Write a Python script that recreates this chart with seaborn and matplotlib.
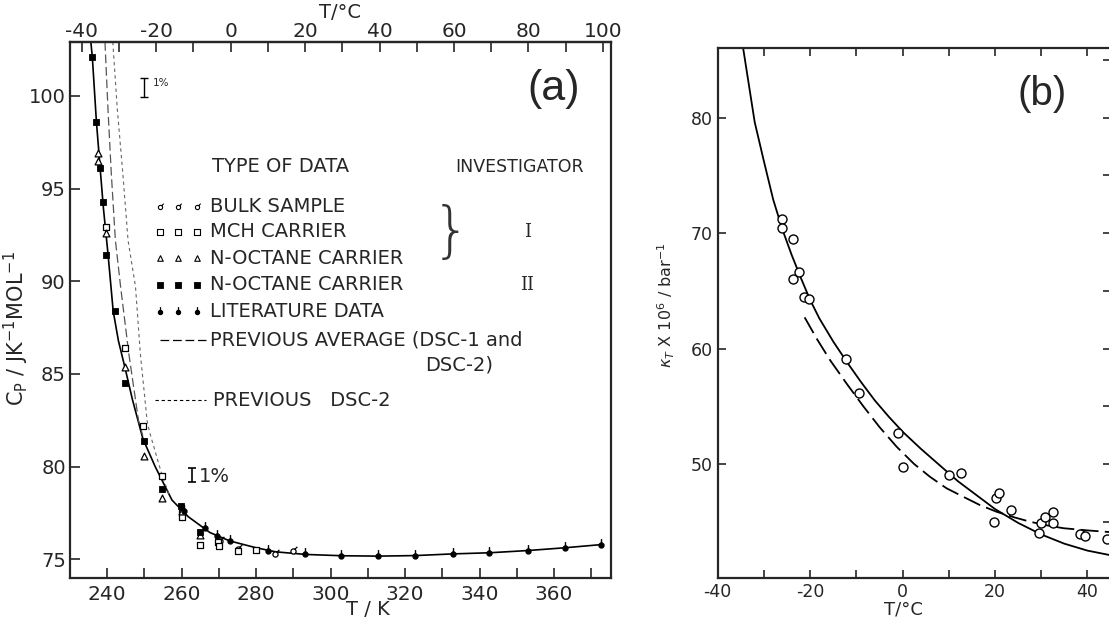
import matplotlib
matplotlib.use("Agg")
import matplotlib.pyplot as plt
import seaborn as sns
from matplotlib.path import Path
from matplotlib.ticker import MultipleLocator, FixedLocator

# ---------------- (a) heat capacity of the liquid ----------------
fit_T = [235.6, 236.0, 237.1, 238.1, 239.0, 240.2, 241.6, 243.0, 244.7, 246.8,
         249.6, 252.9, 257.4, 261.8, 267.6, 272.9, 280.0, 285.3, 293.4, 303.2,
         312.8, 322.8, 332.8, 342.6, 352.9, 362.9, 372.6]
fit_cp = [102.9, 102.1, 98.6, 96.1, 93.9, 91.5, 88.4, 86.8, 85.4, 83.6,
          81.5, 80.0, 78.2, 77.3, 76.45, 76.0, 75.63, 75.41, 75.27, 75.2,
          75.18, 75.21, 75.3, 75.36, 75.48, 75.63, 75.8]

avg_T = [239.4, 240.2, 241.1, 242.2, 243.6, 245.8, 248.4, 250.2]
avg_cp = [102.9, 99.3, 95.8, 92.2, 89.7, 86.1, 82.5, 81.2]

dsc2_T = [241.5, 242.7, 244.2, 245.6, 247.6, 248.9, 250.7, 251.4, 254.8, 256.8]
dsc2_cp = [102.9, 99.3, 95.8, 92.2, 89.7, 86.1, 82.5, 81.85, 79.5, 78.4]

bulk_T = [270.2, 275.2, 285.2, 289.8]
bulk_cp = [76.0, 75.55, 75.3, 75.45]

mch_T = [239.8, 244.9, 249.6, 254.8, 260.0, 260.0, 264.9, 269.8, 270.0, 275.1, 280.0]
mch_cp = [92.9, 86.4, 82.2, 79.5, 77.5, 77.3, 75.8, 75.95, 75.75, 75.45, 75.5]

oct1_T = [237.5, 237.5, 239.8, 244.9, 249.8, 254.8, 260.0, 265.0]
oct1_cp = [96.9, 96.5, 92.6, 85.4, 80.6, 78.3, 77.6, 76.3]

oct2_T = [235.9, 237.1, 238.0, 238.9, 239.8, 242.0, 244.9, 249.8, 254.8, 259.8, 264.9]
oct2_cp = [102.1, 98.6, 96.1, 94.3, 91.4, 88.4, 84.5, 81.4, 78.8, 77.9, 76.5]

lit_T = [260.5, 266.4, 269.4, 272.9, 283.2, 293.2, 302.8, 312.8, 322.8, 332.8,
         342.6, 352.9, 362.9, 372.6]
lit_cp = [77.6, 76.7, 76.25, 76.0, 75.45, 75.27, 75.2, 75.18, 75.21, 75.3,
          75.36, 75.48, 75.63, 75.8]

celsius_ticks = [-40, -20, 0, 20, 40, 60, 80, 100]
celsius_minor = [-30, -10, 10, 30, 50, 70, 90]

legend_rows = ["BULK SAMPLE", "MCH CARRIER", "N-OCTANE CARRIER",
               "N-OCTANE CARRIER", "LITERATURE DATA"]

# ---------------- (b) isothermal compressibility ----------------
kt_T = [-26.06, -26.06, -23.68, -23.8, -22.38, -21.36, -20.2, -12.27, -9.39,
        -1.08, 0.14, 10.09, 12.6, 20.2, 20.84, 19.8, 23.44, 29.5, 29.86, 30.8,
        32.47, 32.47, 38.4, 39.46, 44.3]
kt_val = [71.25, 70.47, 69.46, 66.06, 66.64, 64.42, 64.27, 59.08, 56.11,
          52.65, 49.71, 49.05, 49.19, 47.03, 47.46, 44.96, 46.02, 44.0, 44.92,
          45.44, 45.87, 44.87, 43.92, 43.77, 43.5]

ktfit_T = [-34.5, -32, -30, -28, -26, -24, -22, -20, -18, -15, -12, -9, -6, -3,
           0, 4, 8, 12, 16, 20, 25, 30, 35, 40, 45]
ktfit_val = [86.0, 79.6, 76.2, 72.9, 70.3, 68.1, 66.1, 64.2, 62.6, 60.6, 58.8,
             57.1, 55.5, 54.1, 52.8, 51.3, 49.9, 48.5, 47.3, 46.1, 44.9, 43.9,
             43.1, 42.5, 42.1]

ktprev_T = [-21.2, -18.5, -15.7, -12, -8.5, -5, -1.3, 2.5, 5.9, 9.5, 13.1,
            16.7, 20.3, 24, 27.6, 31, 34.8, 40, 45]
ktprev_val = [62.7, 60.8, 59.0, 56.9, 55.0, 53.2, 51.5, 50.0, 48.9, 47.9,
              47.17, 46.45, 45.87, 45.4, 45.0, 44.7, 44.44, 44.25, 44.1]

# ---------------- style ----------------
sns.set_style("ticks")
plt.rcParams["font.family"] = ["DejaVu Sans"]
plt.rcParams["mathtext.fontset"] = "dejavusans"
plt.rcParams["axes.unicode_minus"] = False

# custom marker shapes
sigma_marker = Path.make_compound_path(
    Path.circle((0, 0), 1.0),
    Path([(0.55, 0.85), (1.5, 1.8)], [Path.MOVETO, Path.LINETO]))
lit_marker = Path.make_compound_path(
    Path.circle((0, 0), 1.0),
    Path([(0, 0.9), (0, 2.6)], [Path.MOVETO, Path.LINETO]))

fig = plt.figure(figsize=(11.09, 6.24), dpi=100)
axA = fig.add_axes([0.0631, 0.0737, 0.4878, 0.859])
axB = fig.add_axes([0.6472, 0.0732, 0.3542, 0.8494])

# ---------------- panel (a) ----------------
sns.lineplot(x=fit_T, y=fit_cp, ax=axA, color="black", lw=1.2,
             estimator=None, sort=False)
sns.lineplot(x=avg_T, y=avg_cp, ax=axA, color="#555555", lw=0.9,
             estimator=None, sort=False, linestyle=(0, (7, 3)))
sns.lineplot(x=dsc2_T, y=dsc2_cp, ax=axA, color="#666666", lw=0.8,
             estimator=None, sort=False, linestyle=(0, (3, 3)))

sns.scatterplot(x=bulk_T, y=bulk_cp, ax=axA, marker=sigma_marker, s=45,
                color="white", edgecolor="black", linewidth=0.9, zorder=4)
sns.scatterplot(x=mch_T, y=mch_cp, ax=axA, marker="s", s=20,
                color="white", edgecolor="black", linewidth=0.9, zorder=4)
sns.scatterplot(x=oct1_T, y=oct1_cp, ax=axA, marker="^", s=24,
                color="white", edgecolor="black", linewidth=0.9, zorder=4)
sns.scatterplot(x=oct2_T, y=oct2_cp, ax=axA, marker="s", s=18,
                color="black", edgecolor="black", linewidth=0.6, zorder=5)
sns.scatterplot(x=lit_T, y=lit_cp, ax=axA, marker=lit_marker, s=85,
                color="black", edgecolor="black", linewidth=1.0, zorder=5)

axA.errorbar([250.0], [100.45], yerr=0.5, fmt="none", ecolor="black",
             elinewidth=1.0, capsize=3, capthick=1.0)
axA.text(252.3, 100.7, "1%", fontsize=7.5, va="center", ha="left")
axA.errorbar([262.7], [79.55], yerr=0.4, fmt="none", ecolor="black",
             elinewidth=1.2, capsize=3, capthick=1.2)
axA.text(264.6, 79.5, "1%", fontsize=14, va="center", ha="left")

axA.set_xlim(230, 375.3)
axA.set_ylim(74, 102.9)
axA.xaxis.set_major_locator(MultipleLocator(20))
axA.xaxis.set_minor_locator(MultipleLocator(10))
axA.yaxis.set_major_locator(MultipleLocator(5))
axA.tick_params(axis="both", which="both", direction="in", length=7,
                width=1.2, labelsize=14.5, right=False, top=False)
axA.tick_params(axis="x", pad=5)
axA.tick_params(axis="y", labelsize=14, pad=3)
for sp in axA.spines.values():
    sp.set_linewidth(1.6)

secA = axA.secondary_xaxis("top", functions=(lambda k: k - 273.15,
                                             lambda c: c + 273.15))
secA.xaxis.set_major_locator(FixedLocator(celsius_ticks))
secA.xaxis.set_minor_locator(FixedLocator(celsius_minor))
secA.tick_params(axis="x", which="both", direction="in", length=7, width=1.2,
                 labelsize=14.5, pad=1)
secA.spines["top"].set_linewidth(1.6)
fig.text(340 / 1109, 1 - 13 / 624, "T/°C", fontsize=14, ha="center",
         va="center")

axA.set_xlabel("T / K", fontsize=14)
axA.xaxis.set_label_coords(0.55, -0.041)
axA.set_ylabel(r"C$_\mathregular{P}$ / JK$^{-1}$MOL$^{-1}$", fontsize=15)
axA.yaxis.set_label_coords(-0.072, 0.466)

axA.text(0.845, 0.95, "(a)", transform=axA.transAxes, fontsize=31,
         family=["Liberation Sans"], ha="left", va="top")

# key block drawn inside panel (a)
key_fs = 14
axA.text(0.262, 0.767, "TYPE OF DATA", transform=axA.transAxes,
         fontsize=key_fs, va="center", ha="left")
axA.text(0.712, 0.767, "INVESTIGATOR", transform=axA.transAxes,
         fontsize=12.5, va="center", ha="left")
row_y = [0.693, 0.646, 0.597, 0.547, 0.497]
row_style = [
    dict(marker=sigma_marker, s=30, facecolor="white", edgecolor="black", linewidth=0.8),
    dict(marker="s", s=14, facecolor="white", edgecolor="black", linewidth=0.8),
    dict(marker="^", s=16, facecolor="white", edgecolor="black", linewidth=0.8),
    dict(marker="s", s=14, facecolor="black", edgecolor="black", linewidth=0.6),
    dict(marker=lit_marker, s=60, facecolor="black", edgecolor="black", linewidth=0.9),
]
for label, yy, st in zip(legend_rows, row_y, row_style):
    axA.scatter([0.166, 0.200, 0.235], [yy] * 3, transform=axA.transAxes,
                clip_on=False, zorder=6, **st)
    axA.text(0.259, yy, label, transform=axA.transAxes, fontsize=key_fs,
             va="center", ha="left")
axA.plot([0.166, 0.252], [0.444, 0.444], transform=axA.transAxes,
         color="black", lw=0.9, linestyle=(0, (7, 3)))
axA.text(0.259, 0.444, "PREVIOUS AVERAGE (DSC-1 and", transform=axA.transAxes,
         fontsize=key_fs, va="center", ha="left")
axA.text(0.656, 0.397, "DSC-2)", transform=axA.transAxes,
         fontsize=key_fs, va="center", ha="left")
axA.plot([0.157, 0.252], [0.332, 0.332], transform=axA.transAxes,
         color="black", lw=0.8, linestyle=(0, (3, 2.5)))
axA.text(0.264, 0.332, "PREVIOUS   DSC-2", transform=axA.transAxes,
         fontsize=key_fs, va="center", ha="left")
axA.text(0.668, 0.642, "}", transform=axA.transAxes, fontsize=44,
         va="center", ha="left", fontweight="light", color="#333333")
axA.text(0.845, 0.646, "I", transform=axA.transAxes, fontsize=13,
         family=["DejaVu Serif"], va="center", ha="center")
axA.text(0.845, 0.547, "II", transform=axA.transAxes, fontsize=13,
         family=["DejaVu Serif"], va="center", ha="center")

# ---------------- panel (b) ----------------
sns.lineplot(x=ktfit_T, y=ktfit_val, ax=axB, color="black", lw=1.3,
             estimator=None, sort=False)
sns.lineplot(x=ktprev_T, y=ktprev_val, ax=axB, color="black", lw=1.3,
             estimator=None, sort=False, linestyle=(0, (10, 3.5)))
sns.scatterplot(x=kt_T, y=kt_val, ax=axB, marker="o", s=42, color="white",
                edgecolor="black", linewidth=1.0, zorder=5, clip_on=True)

axB.set_xlim(-40, 45)
axB.set_ylim(40.1, 86)
axB.xaxis.set_major_locator(MultipleLocator(20))
axB.xaxis.set_minor_locator(MultipleLocator(10))
axB.yaxis.set_major_locator(MultipleLocator(10))
axB.yaxis.set_minor_locator(MultipleLocator(5))
axB.tick_params(axis="both", which="both", direction="in", length=6,
                width=1.2, labelsize=12.5, top=True, right=True)
axB.tick_params(axis="y", which="minor", left=False, right=True)
for sp in axB.spines.values():
    sp.set_linewidth(1.6)
axB.set_xlabel("T/°C", fontsize=13)
axB.xaxis.set_label_coords(0.474, -0.041)
axB.set_ylabel(r"$\kappa_T$ X 10$^6$ / bar$^{-1}$", fontsize=11.5)
axB.yaxis.set_label_coords(-0.104, 0.516)
axB.text(0.762, 0.95, "(b)", transform=axB.transAxes, fontsize=29,
         family=["Liberation Sans"], ha="left", va="top")

fig.savefig("out.png", dpi=100)
